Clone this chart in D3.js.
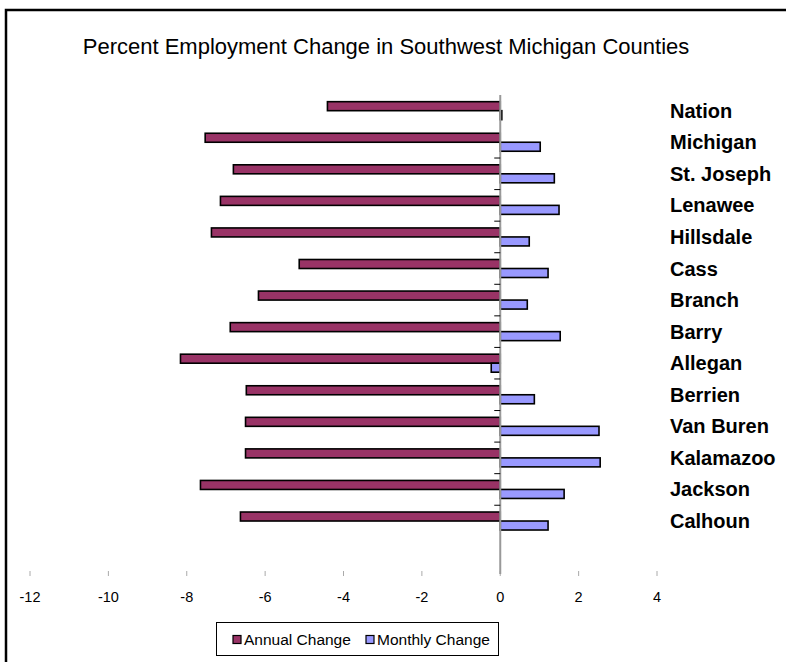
<!DOCTYPE html>
<html>
<head>
<meta charset="utf-8">
<script src="https://cdn.jsdelivr.net/npm/d3@7"></script>
<style>
  body { margin: 0; background: #fff; }
  svg text { font-family: "Liberation Sans", Arial, sans-serif; }
</style>
</head>
<body>
<div id="chart"></div>
<script>
const WIDTH = 786;
const HEIGHT = 662;
const PLOT = { LEFT: 30, RIGHT: 657, TOP: 94.9, BOTTOM: 536.8, AXIS_END: 574 };
const BAR_H = 9;

// data
const counties = ["Nation", "Michigan", "St. Joseph", "Lenawee", "Hillsdale", "Cass", "Branch",
                  "Barry", "Allegan", "Berrien", "Van Buren", "Kalamazoo", "Jackson", "Calhoun"];
const annualChange = [-4.41, -7.53, -6.81, -7.14, -7.37, -5.13, -6.17, -6.89, -8.16, -6.48, -6.5, -6.5, -7.65, -6.63];
const monthlyChange = [0.04, 1.02, 1.38, 1.5, 0.74, 1.22, 0.69, 1.53, -0.23, 0.87, 2.52, 2.55, 1.63, 1.22];
const xTicks = [-12, -10, -8, -6, -4, -2, 0, 2, 4];
const seriesNames = ["Annual Change", "Monthly Change"];
const seriesColors = ["#993366", "#9999ff"];

const data = counties.map((c, i) => ({ county: c, annual: annualChange[i], monthly: monthlyChange[i] }));

const svg = d3.select("#chart")
    .append("svg")
    .attr("width", WIDTH)
    .attr("height", HEIGHT);

// outer frame (runs off the right and bottom edge)
svg.append("rect")
    .attr("x", 6)
    .attr("y", 10)
    .attr("width", WIDTH + 20)
    .attr("height", HEIGHT + 20)
    .attr("fill", "none")
    .attr("stroke", "#000")
    .attr("stroke-width", 2.5);

svg.append("text")
    .attr("x", 386)
    .attr("y", 54)
    .attr("text-anchor", "middle")
    .attr("font-size", "22px")
    .text("Percent Employment Change in Southwest Michigan Counties");

const x = d3.scaleLinear()
    .domain([-12, 4])
    .range([PLOT.LEFT, PLOT.RIGHT]);

const y = d3.scaleBand()
    .domain(counties)
    .range([PLOT.TOP, PLOT.BOTTOM]);

const center = d => y(d) + y.bandwidth() / 2;

// x ticks (no axis line)
const xAxis = svg.append("g");
xAxis.selectAll("line")
    .data(xTicks)
    .enter().append("line")
    .attr("x1", d => x(d))
    .attr("x2", d => x(d))
    .attr("y1", 571)
    .attr("y2", 576)
    .attr("stroke", "#aaa")
    .attr("stroke-width", 1);
xAxis.selectAll("text")
    .data(xTicks)
    .enter().append("text")
    .attr("x", d => x(d))
    .attr("y", 602)
    .attr("text-anchor", "middle")
    .attr("font-size", "14.5px")
    .text(d => d);

// bars
svg.selectAll(".annual")
    .data(data)
    .enter().append("rect")
    .attr("class", "annual")
    .attr("x", d => x(Math.min(0, d.annual)))
    .attr("y", d => center(d.county) - BAR_H)
    .attr("width", d => Math.abs(x(d.annual) - x(0)))
    .attr("height", BAR_H)
    .attr("fill", seriesColors[0])
    .attr("stroke", "#000")
    .attr("stroke-width", 1.6);

svg.selectAll(".monthly")
    .data(data)
    .enter().append("rect")
    .attr("class", "monthly")
    .attr("x", d => x(Math.min(0, d.monthly)))
    .attr("y", d => center(d.county))
    .attr("width", d => Math.abs(x(d.monthly) - x(0)))
    .attr("height", BAR_H)
    .attr("fill", seriesColors[1])
    .attr("stroke", "#000")
    .attr("stroke-width", 1.6);

// category axis at zero
svg.append("line")
    .attr("x1", x(0))
    .attr("x2", x(0))
    .attr("y1", PLOT.TOP)
    .attr("y2", PLOT.AXIS_END)
    .attr("stroke", "#999")
    .attr("stroke-width", 2);

svg.selectAll(".ytick")
    .data(counties.slice(2))
    .enter().append("line")
    .attr("class", "ytick")
    .attr("x1", x(0) - 6)
    .attr("x2", x(0))
    .attr("y1", d => y(d))
    .attr("y2", d => y(d))
    .attr("stroke", "#000")
    .attr("stroke-width", 1);

svg.selectAll(".label")
    .data(counties)
    .enter().append("text")
    .attr("class", "label")
    .attr("x", 670)
    .attr("y", d => center(d))
    .attr("dy", "0.35em")
    .attr("font-size", "20px")
    .attr("font-weight", "bold")
    .text(d => d);

// legend
const legend = svg.append("g");
legend.append("rect")
    .attr("x", 216.5)
    .attr("y", 622.5)
    .attr("width", 282)
    .attr("height", 33)
    .attr("fill", "#fff")
    .attr("stroke", "#000")
    .attr("stroke-width", 1);

const legendX = [233, 366];
seriesNames.forEach((name, i) => {
    legend.append("rect")
        .attr("x", legendX[i])
        .attr("y", 635.5)
        .attr("width", 8)
        .attr("height", 8)
        .attr("fill", seriesColors[i])
        .attr("stroke", "#000")
        .attr("stroke-width", 1.2);
    legend.append("text")
        .attr("x", legendX[i] + 11)
        .attr("y", 645)
        .attr("font-size", "15.5px")
        .text(name);
});
</script>
</body>
</html>
